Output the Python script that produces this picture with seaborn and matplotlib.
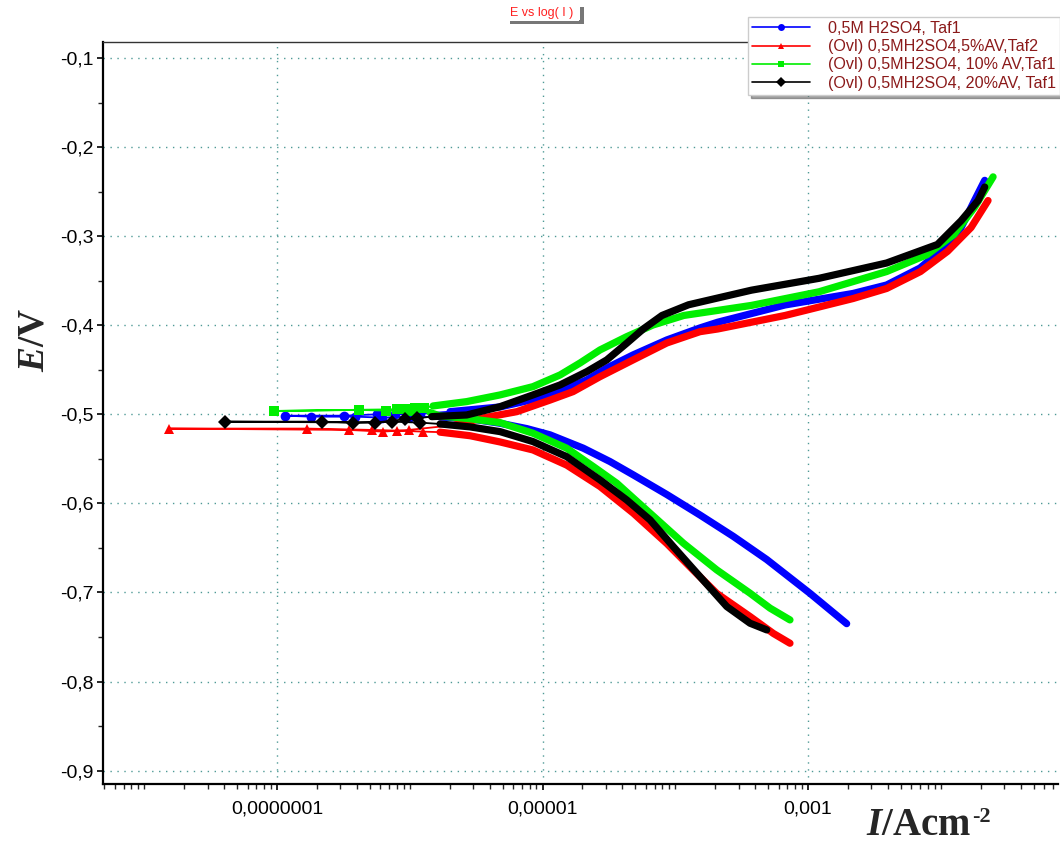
import numpy as np
import matplotlib
matplotlib.use("Agg")
import matplotlib.pyplot as plt
import seaborn as sns
from matplotlib.ticker import FixedLocator, LogLocator, FuncFormatter, NullFormatter, MultipleLocator
from matplotlib.lines import Line2D
from matplotlib.patches import Rectangle

# ---------------- data (E in V, log10 of I in A/cm2), scan order ----------------
labels = ["0,5M H2SO4, Taf1",
          "(Ovl) 0,5MH2SO4,5%AV,Taf2",
          "(Ovl) 0,5MH2SO4, 10% AV,Taf1",
          "(Ovl) 0,5MH2SO4, 20%AV, Taf1"]

blue_logI = [-2.709, -2.985, -3.311, -3.563, -3.814, -4.064, -4.316, -4.492, -4.693, -4.944,
             -5.119, -5.320, -5.546, -5.772,
             -5.998, -6.209, -6.412, -6.744, -6.940, -6.495, -6.247, -6.111,
             -5.923, -5.697, -5.320, -5.019, -4.818, -4.667, -4.516, -4.318, -4.064, -3.814,
             -3.681, -3.173, -2.661, -2.408, -2.156, -1.976, -1.847, -1.746, -1.669]
blue_E = [-0.735, -0.701, -0.663, -0.637, -0.613, -0.590, -0.568, -0.553, -0.538, -0.523,
          -0.516, -0.510, -0.505, -0.503,
          -0.5026, -0.5037, -0.5026, -0.5026, -0.5015, -0.5015, -0.5000, -0.5000,
          -0.4995, -0.497, -0.4917, -0.4816, -0.4707, -0.4614, -0.448, -0.4333, -0.4165, -0.403,
          -0.3966, -0.3772, -0.3643, -0.3548, -0.3357, -0.3132, -0.2904, -0.2600, -0.2373]

red_logI = [-3.136, -3.261, -3.437, -3.688, -3.864, -4.064, -4.316, -4.567, -4.818, -5.072,
            -5.320, -5.546, -5.772,
            -5.900, -6.098, -6.287, -6.776, -7.814, -6.458, -6.202, -6.006,
            -5.659, -5.448, -5.194, -4.944, -4.770, -4.567, -4.318, -4.064, -3.814, -3.681,
            -3.173, -2.661, -2.408, -2.153, -1.949, -1.772, -1.644]
red_E = [-0.757, -0.746, -0.727, -0.701, -0.675, -0.645, -0.611, -0.581, -0.557, -0.540,
         -0.531, -0.524, -0.520,
         -0.5194, -0.5183, -0.5175, -0.516, -0.516, -0.5175, -0.5194, -0.5175,
         -0.512, -0.504, -0.497, -0.484, -0.4745, -0.4577, -0.4389, -0.4199, -0.4072, -0.4042,
         -0.389, -0.370, -0.3587, -0.3397, -0.317, -0.2903, -0.260]

green_logI = [-3.136, -3.286, -3.437, -3.688, -3.939, -4.190, -4.441, -4.617, -4.818, -5.072,
              -5.320, -5.546, -5.772, -5.847,
              -6.000, -6.179, -6.380, -7.023, -6.098, -6.036, -5.960, -5.893,
              -5.825, -5.571, -5.320, -5.072, -4.868, -4.717, -4.567, -4.366, -4.168, -3.936,
              -3.426, -2.917, -2.408, -2.104, -1.900, -1.746, -1.606]
green_E = [-0.7308, -0.7176, -0.7008, -0.6746, -0.6447, -0.611, -0.5773, -0.5587, -0.538, -0.5212,
           -0.5093, -0.505, -0.5018, -0.498,
           -0.4962, -0.4958, -0.4951, -0.4962, -0.4943, -0.4943, -0.4932, -0.4932,
           -0.4906, -0.4857, -0.4782, -0.4689, -0.4558, -0.4423, -0.4277, -0.4128, -0.3997, -0.389,
           -0.3777, -0.3624, -0.3397, -0.3208, -0.298, -0.2676, -0.2334]

black_logI = [-3.311, -3.437, -3.612, -3.814, -4.015, -4.190, -4.366, -4.567, -4.818, -5.072,
              -5.320, -5.546, -5.772,
              -5.923, -6.136, -6.425, -6.659, -7.392, -6.262, -6.036, -5.948, -5.835,
              -5.571, -5.320, -5.072, -4.868, -4.667, -4.516, -4.366, -4.240, -4.100, -3.900,
              -3.426, -2.917, -2.408, -2.025, -1.847, -1.719, -1.669]
black_E = [-0.742, -0.7345, -0.7158, -0.6822, -0.6485, -0.6185, -0.5961, -0.5736, -0.5475, -0.5306,
           -0.5194, -0.5141, -0.5108,
           -0.5093, -0.5082, -0.5093, -0.5082, -0.5082, -0.5093, -0.5055, -0.5044, -0.5026,
           -0.5007, -0.4914, -0.4782, -0.467, -0.4521, -0.4389, -0.4202, -0.4040, -0.3890, -0.3770,
           -0.3606, -0.3473, -0.3301, -0.3093, -0.2827, -0.260, -0.2448]

colors = ["#0000ff", "#ff0000", "#00ee00", "#000000"]
markers = ["o", "^", "s", "D"]
xtick_vals = [1e-7, 1e-5, 1e-3]
xtick_labels = ["0,0000001", "0,00001", "0,001"]

# ---------------- style ----------------
sns.set_style("white")
plt.rcParams["font.family"] = ["Liberation Sans", "DejaVu Sans"]
plt.rcParams["mathtext.fontset"] = "custom"
plt.rcParams["mathtext.rm"] = "Liberation Serif:bold"
plt.rcParams["mathtext.bf"] = "Liberation Serif:bold"
plt.rcParams["mathtext.it"] = "Liberation Serif:italic:bold"

fig = plt.figure(figsize=(10.6, 8.41), dpi=100)
ax = fig.add_axes([103 / 1060, 1 - 784 / 841, (1058 - 103) / 1060, (784 - 42) / 841])

all_series = [(blue_logI, blue_E), (red_logI, red_E), (green_logI, green_E), (black_logI, black_E)]
for (logI, E), c, m in zip(all_series, colors, markers):
    I = 10 ** np.asarray(logI)
    E = np.asarray(E)
    mask = np.asarray(logI) > -5.86
    idx = np.arange(len(I))
    # thin connecting line through all points, markers on the sparse points near Ecorr
    sns.lineplot(x=I, y=E, sort=False, estimator=None, color=c, linewidth=1.3,
                 marker=m, markersize=7, markeredgewidth=0, markevery=list(idx[~mask]),
                 ax=ax, legend=False)
    # dense polarisation branches drawn as thick bands
    runs = np.split(idx[mask], np.where(np.diff(idx[mask]) != 1)[0] + 1)
    for r in runs:
        if len(r) > 1:
            sns.lineplot(x=I[r], y=E[r], sort=False, estimator=None, color=c,
                         linewidth=5.2, ax=ax, legend=False,
                         solid_capstyle="round", solid_joinstyle="round")

ax.set_xscale("log")
ax.set_xlim(10 ** -8.311, 10 ** -1.117)
ax.set_ylim(-0.915, -0.082)

ax.xaxis.set_major_locator(FixedLocator(xtick_vals))
ax.xaxis.set_major_formatter(FuncFormatter(lambda v, p: dict(zip(xtick_vals, xtick_labels)).get(
    min(xtick_vals, key=lambda t: abs(np.log10(t) - np.log10(v))), "")))
ax.xaxis.set_minor_locator(LogLocator(base=10, subs="all", numticks=100))
ax.xaxis.set_minor_formatter(NullFormatter())
ax.yaxis.set_major_locator(MultipleLocator(0.1))
ax.yaxis.set_minor_locator(MultipleLocator(0.05))
ax.yaxis.set_major_formatter(FuncFormatter(lambda v, p: f"{v:.1f}".replace(".", ",")))

ax.tick_params(axis="both", which="major", direction="out", length=4, width=1.2,
               labelsize=14, colors="black", pad=3)
ax.tick_params(axis="x", which="major", pad=8)
ax.tick_params(axis="both", which="minor", direction="out", length=3.5, width=1.0)
ax.tick_params(axis="both", which="both", bottom=True, left=True)

ax.grid(True, which="major", linestyle=(0, (1, 4)), color="#4f9a96", linewidth=1.0)
for s in ["left", "bottom"]:
    ax.spines[s].set_color("black")
    ax.spines[s].set_linewidth(1.6)
ax.spines["top"].set_color("#333333")
ax.spines["top"].set_linewidth(1.0)
ax.spines["right"].set_visible(False)

# axis labels
fig.text(33 / 1060, 1 - 340 / 841, r"$\mathit{E}\mathbf{/V}$", rotation=90,
         ha="center", va="center", fontsize=27)
fig.text(866 / 1060, 1 - 835 / 841, r"$\mathit{I}\mathbf{/Acm}$",
         ha="left", va="baseline", fontsize=28)
fig.text(972 / 1060, 1 - 822 / 841, "-2", family="Liberation Serif", fontweight="bold",
         ha="left", va="baseline", fontsize=16)

# title with small shadow
fig.patches.append(Rectangle((510 / 1060, 1 - 24 / 841), 74 / 1060, 4 / 841,
                             transform=fig.transFigure, facecolor="#777777", edgecolor="none"))
fig.patches.append(Rectangle((580 / 1060, 1 - 24 / 841), 4 / 1060, 17 / 841,
                             transform=fig.transFigure, facecolor="#777777", edgecolor="none"))
fig.patches.append(Rectangle((507 / 1060, 1 - 21 / 841), 72 / 1060, 17 / 841,
                             transform=fig.transFigure, facecolor="white", edgecolor="none"))
fig.text(542 / 1060, 1 - 13 / 841, "E vs log( I )", color="#ff2020", fontsize=9,
         ha="center", va="center")

# legend
handles = [Line2D([0], [0], color=c, marker=m, markersize=5, linewidth=1.2, markeredgewidth=0)
           for c, m in zip(colors, markers)]
leg = ax.legend(handles, labels, loc="upper right", bbox_to_anchor=(1.0, 1 - 17 / 841),
                bbox_transform=fig.transFigure, borderaxespad=0, frameon=True, shadow=True,
                fancybox=False, framealpha=1, edgecolor="#cccccc", fontsize=11.6,
                handlelength=3.6, handletextpad=1.1, labelspacing=0.2, borderpad=0.25)
for t in leg.get_texts():
    t.set_color("#8b1a1a")

fig.savefig("out.png", dpi=100)
